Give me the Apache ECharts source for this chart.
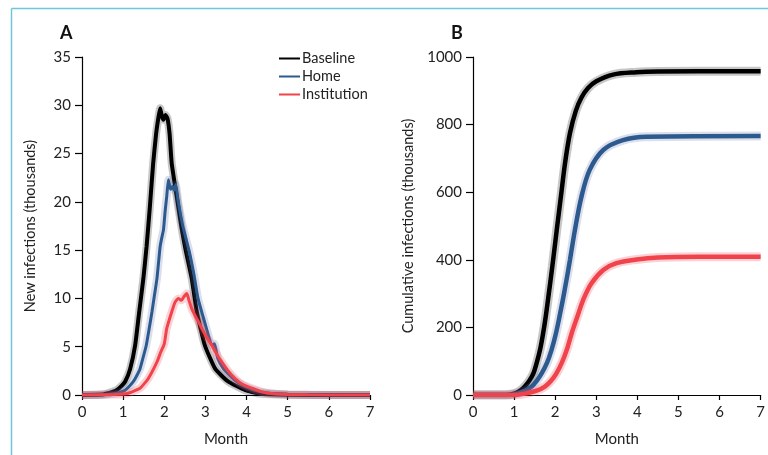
<!DOCTYPE html>
<html>
<head>
<meta charset="utf-8">
<script src="https://cdn.jsdelivr.net/npm/echarts@6/dist/echarts.min.js"></script>
<style>
html,body{margin:0;padding:0;background:#fff;}
#chart{width:768px;height:455px;}
</style>
</head>
<body>
<div id="chart"></div>
<script>
// ---------- Data ----------
const xTicks = [0,1,2,3,4,5,6,7];
const seriesNames = ['Baseline','Home','Institution'];

// Panel A: new infections (thousands) vs month
const baseA_x = [0,0.5,0.6,0.72,0.84,0.95,1.05,1.17,1.29,1.39,1.49,1.57,1.65,1.73,1.8,1.86,1.9,1.94,1.98,2.03,2.08,2.13,2.18,2.3,2.42,2.52,2.67,2.79,2.99,3.24,3.55,3.97,4.3,5,6,7];
const baseA_y = [0,0.05,0.15,0.3,0.5,0.9,1.4,2.7,5.1,8.6,12.0,15.4,19.5,24.0,27.0,28.8,29.7,28.9,28.5,29.0,28.6,27.0,24.0,20.6,17.3,15.0,12.0,8.6,5.1,2.7,1.4,0.5,0.15,0.02,0,0];

const homeA_x = [0,0.5,0.8,0.93,1.05,1.15,1.25,1.33,1.41,1.48,1.56,1.63,1.70,1.76,1.82,1.86,1.9,1.94,1.98,2.02,2.06,2.1,2.15,2.2,2.24,2.28,2.34,2.45,2.6,2.72,2.82,2.95,3.05,3.16,3.22,3.3,3.44,3.6,3.76,4.0,4.17,4.5,5,6,7];
const homeA_y = [0,0.03,0.15,0.3,0.5,0.9,1.4,2.0,2.7,3.8,5.1,6.8,8.6,10.3,12.0,13.7,15.4,16.3,17.1,19.0,20.6,22.3,21.3,21.6,21.2,21.8,20.0,17.5,15.0,12.5,10.0,8.0,6.5,5.1,5.3,3.8,2.7,2.0,1.4,0.8,0.5,0.2,0.05,0,0];

const instA_x = [0,0.8,1.1,1.41,1.61,1.82,1.92,2.0,2.06,2.18,2.26,2.34,2.42,2.48,2.55,2.6,2.67,2.75,2.83,2.91,3.0,3.16,3.28,3.4,3.55,3.72,3.9,4.13,4.35,4.6,5,5.5,7];
const instA_y = [0,0.05,0.15,0.7,1.7,3.4,4.5,5.3,6.9,8.6,9.6,10.0,9.8,10.2,10.5,9.8,8.9,8.2,7.6,6.9,6.2,5.1,4.2,3.4,2.5,1.7,1.1,0.7,0.35,0.15,0.05,0.02,0];

// Panel B: cumulative infections (thousands) vs month
const baseB_x = [0,0.8,1.02,1.15,1.26,1.37,1.47,1.55,1.63,1.70,1.77,1.85,1.93,2.0,2.07,2.14,2.24,2.36,2.5,2.64,2.8,3.0,3.41,3.98,4.5,7];
const baseB_y = [0,0,5,13,25,42,64,95,133,178,232,305,380,450,520,588,686,775,840,880,908,928,948,955,957,958];

const homeB_x = [0,0.85,1.10,1.27,1.43,1.55,1.67,1.80,1.91,2.01,2.11,2.23,2.36,2.48,2.64,2.84,3.17,3.65,4.22,7];
const homeB_y = [0,0,5,13,25,42,64,95,133,178,235,310,400,488,587,666,725,754,764,766];

const instB_x = [0,1.0,1.30,1.55,1.75,1.9,2.03,2.16,2.28,2.40,2.54,2.68,2.88,3.17,3.49,3.98,4.5,5.5,7];
const instB_y = [0,0,5,13,25,42,64,95,133,182,232,281,330,370,390,401,407,409,409];

// ---------- Build ----------
const pair = (xs, ys) => xs.map((x, i) => [x, ys[i]]);
const colors = ['#000000', '#2c5a8f', '#f0434b'];
const haloColors = ['rgba(0,0,0,0.22)', 'rgba(90,110,170,0.22)', 'rgba(240,80,90,0.25)'];
const FONT = 'Lato';
const TXT = '#222';

const dataA = [pair(baseA_x, baseA_y), pair(homeA_x, homeA_y), pair(instA_x, instA_y)];
const dataB = [pair(baseB_x, baseB_y), pair(homeB_x, homeB_y), pair(instB_x, instB_y)];

function xAxis(gi) {
  return {
    type: 'value', gridIndex: gi, min: 0, max: 7, interval: 1,
    name: 'Month', nameLocation: 'middle', nameGap: 37,
    nameTextStyle: {fontFamily: FONT, fontSize: 15, color: TXT},
    axisLine: {show: true, lineStyle: {color: '#000', width: 1.2}},
    axisTick: {show: true, length: 5, lineStyle: {color: '#000', width: 1.2}},
    axisLabel: {fontFamily: FONT, fontSize: 15, color: TXT, margin: 10},
    splitLine: {show: false}
  };
}
function yAxis(gi, max, interval, name, gap) {
  return {
    type: 'value', gridIndex: gi, min: 0, max: max, interval: interval,
    name: name, nameLocation: 'middle', nameGap: gap, nameRotate: 90,
    nameTextStyle: {fontFamily: FONT, fontSize: 14.5, color: TXT},
    axisLine: {show: true, lineStyle: {color: '#000', width: 1.2}},
    axisTick: {show: true, length: 7, lineStyle: {color: '#000', width: 1.2}},
    axisLabel: {fontFamily: FONT, fontSize: 15, color: TXT, margin: 11, formatter: v => String(v)},
    splitLine: {show: false}
  };
}

const series = [];
[dataA, dataB].forEach((set, gi) => {
  const sm = gi === 0 ? 0.15 : 0.35;
  set.forEach((d, i) => {
    series.push({
      name: seriesNames[i] + ' spread', type: 'line', xAxisIndex: gi, yAxisIndex: gi,
      data: d, showSymbol: false, smooth: sm, silent: true, z: 2 + i * 2,
      lineStyle: {color: haloColors[i], width: gi === 0 ? 8 : 9}
    });
    series.push({
      name: seriesNames[i], type: 'line', xAxisIndex: gi, yAxisIndex: gi,
      data: d, showSymbol: false, smooth: sm, z: 3 + i * 2,
      itemStyle: {color: colors[i]},
      lineStyle: {color: colors[i], width: gi === 0 ? (i === 0 ? 4 : 3) : 4.5}
    });
  });
});

const option = {
  animation: false,
  backgroundColor: '#fff',
  title: [
    {text: 'A', left: 55, top: 19, textStyle: {fontFamily: FONT, fontSize: 18, fontWeight: 'bold', color: '#111'}},
    {text: 'B', left: 446, top: 19, textStyle: {fontFamily: FONT, fontSize: 18, fontWeight: 'bold', color: '#111'}}
  ],
  legend: {
    data: seriesNames, orient: 'vertical', left: 274, top: 46, itemGap: 3,
    itemWidth: 21, itemHeight: 2, icon: 'rect',
    textStyle: {fontFamily: FONT, fontSize: 14.5, color: TXT, padding: [0, 0, 0, -3]}
  },
  grid: [
    {left: 82, right: 398, top: 57, bottom: 60},
    {left: 473, right: 7, top: 57, bottom: 60}
  ],
  xAxis: [xAxis(0), xAxis(1)],
  yAxis: [
    yAxis(0, 35, 5, 'New infections (thousands)', 44),
    yAxis(1, 1000, 200, 'Cumulative infections (thousands)', 57)
  ],
  graphic: [
    {type: 'line', shape: {x1: 11.5, y1: 8.5, x2: 768, y2: 8.5}, style: {stroke: '#6cc7dc', lineWidth: 1.5}, silent: true},
    {type: 'line', shape: {x1: 11.5, y1: 8.5, x2: 11.5, y2: 455}, style: {stroke: '#6cc7dc', lineWidth: 1.5}, silent: true}
  ],
  series: series
};

const chart = echarts.init(document.getElementById('chart'), null, {renderer: 'canvas'});
chart.setOption(option);
</script>
</body>
</html>
